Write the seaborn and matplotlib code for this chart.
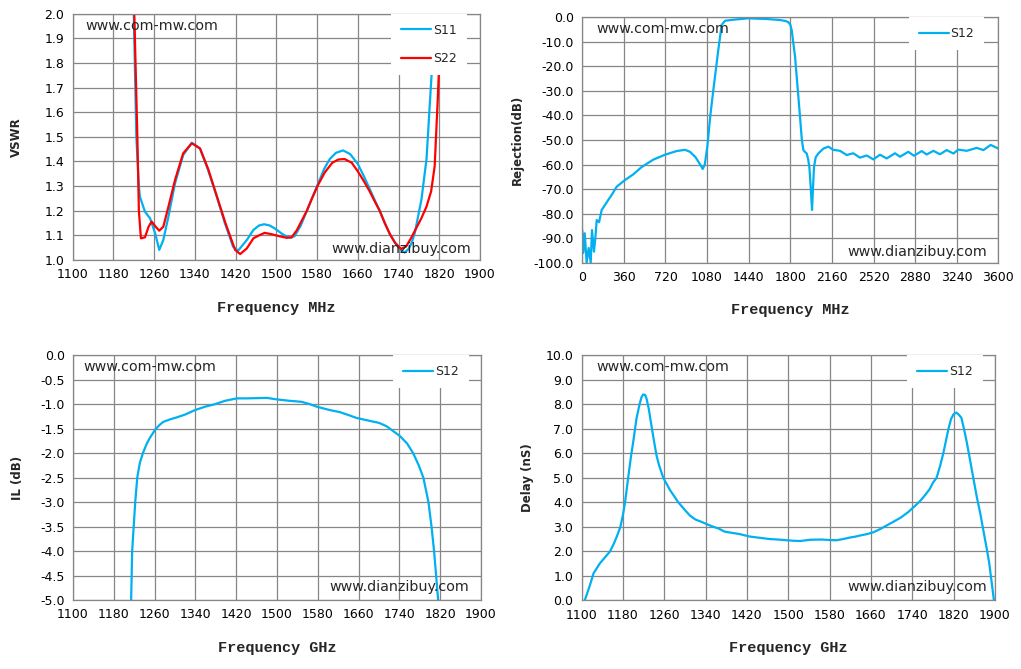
import matplotlib
matplotlib.use("Agg")
import matplotlib.pyplot as plt
import seaborn as sns
import pandas as pd
from matplotlib.ticker import FormatStrFormatter

# ---------------- data ----------------
vswr_freq_s11 = [1216, 1220, 1225, 1230, 1232, 1238, 1242, 1252, 1262, 1270, 1278, 1288, 1301, 1317, 1334,
                 1350, 1366, 1383, 1399, 1415, 1425, 1442, 1455, 1466, 1476, 1487, 1497, 1510, 1520, 1528,
                 1536, 1548, 1560, 1572, 1582, 1594, 1605, 1617, 1631, 1645, 1660, 1672, 1683, 1694, 1703,
                 1713, 1723, 1735, 1745, 1752, 1760, 1766, 1772, 1785, 1795, 1804, 1813, 1816]
vswr_s11 = [2.3, 2.0, 1.5, 1.3, 1.257, 1.22, 1.196, 1.169, 1.108, 1.041, 1.081, 1.176, 1.311, 1.426, 1.476,
            1.453, 1.365, 1.257, 1.149, 1.054, 1.038, 1.081, 1.122, 1.14, 1.145, 1.14, 1.128, 1.108, 1.095, 1.09,
            1.097, 1.14, 1.2, 1.26, 1.31, 1.37, 1.41, 1.435, 1.445, 1.43, 1.39, 1.34, 1.29, 1.24, 1.2,
            1.15, 1.105, 1.065, 1.04, 1.03, 1.045, 1.07, 1.11, 1.245, 1.41, 1.72, 2.0, 2.2]

vswr_freq_s22 = [1217, 1221, 1227, 1230, 1234, 1242, 1249, 1255, 1263, 1270, 1278, 1288, 1301, 1317, 1334,
                 1350, 1366, 1383, 1400, 1419, 1429, 1442, 1455, 1466, 1477, 1490, 1505, 1520, 1530, 1540,
                 1550, 1560, 1570, 1582, 1595, 1610, 1622, 1634, 1648, 1660, 1672, 1683, 1694, 1703, 1713,
                 1723, 1733, 1745, 1755, 1765, 1775, 1785, 1795, 1804, 1811, 1817, 1824, 1827]
vswr_s22 = [2.3, 2.0, 1.5, 1.2, 1.088, 1.092, 1.135, 1.156, 1.135, 1.119, 1.135, 1.216, 1.325, 1.433, 1.474,
            1.453, 1.37, 1.26, 1.15, 1.041, 1.024, 1.047, 1.088, 1.10, 1.11, 1.105, 1.097, 1.09, 1.092, 1.12,
            1.16, 1.2, 1.25, 1.305, 1.355, 1.395, 1.408, 1.41, 1.395, 1.36, 1.32, 1.28, 1.235, 1.2, 1.15,
            1.105, 1.07, 1.045, 1.055, 1.09, 1.13, 1.17, 1.217, 1.278, 1.38, 1.65, 2.0, 2.2]

rej_freq = [0, 9, 21, 38, 55, 73, 84, 101, 113, 125, 145, 168, 196, 225, 254, 298, 370, 441, 514, 614,
            715, 816, 889, 932, 980, 1020, 1042, 1060, 1082, 1108, 1134, 1177, 1206, 1235, 1300, 1437, 1600,
            1711, 1760, 1783, 1800, 1812, 1841, 1862, 1884, 1900, 1913, 1930, 1942, 1955, 1965, 1975, 1988,
            1996, 2005, 2020, 2042, 2086, 2129, 2172, 2230, 2288, 2345, 2403, 2461, 2518, 2576, 2634, 2706,
            2749, 2821, 2870, 2937, 2980, 3038, 3095, 3153, 3211, 3254, 3326, 3413, 3471, 3534, 3600]
rej_s12 = [-86.7, -96, -88, -100, -94, -100, -86.7, -95.5, -90, -82.6, -83.5, -78.5, -76.5, -74.4, -72.4,
           -69, -66.3, -64, -61, -58, -56, -54.5, -54, -54.8, -57, -60, -61.8, -60, -52.7, -40, -29.6, -13.3,
           -3.1, -1.4, -1.0, -0.4, -0.7, -1.1, -1.5, -2.0, -3.0, -5.2, -16, -28, -40.5, -50, -54.1, -55,
           -55.5, -58, -61, -68, -78.5, -70, -61, -57, -55.5, -53.5, -52.7, -54, -54.4, -56.1, -55.4, -57.2,
           -56.3, -57.9, -56, -57.5, -55.4, -56.8, -54.8, -56.4, -54.5, -55.9, -54.4, -55.8, -54.1, -55.5,
           -53.9, -54.4, -53.2, -54.1, -52, -53.5]

il_freq = [1213, 1214, 1216, 1219, 1222, 1226, 1231, 1237, 1244, 1250, 1261, 1270, 1277, 1290, 1303, 1320,
           1339, 1359, 1378, 1398, 1421, 1440, 1460, 1480, 1499, 1525, 1548, 1565, 1578, 1604, 1623, 1640,
           1656, 1682, 1700, 1715, 1741, 1755, 1767, 1778, 1787, 1797, 1803, 1808, 1812, 1816, 1818]
il_s12 = [-5.3, -5.0, -4.0, -3.5, -3.0, -2.5, -2.2, -2.0, -1.82, -1.7, -1.52, -1.42, -1.36, -1.31, -1.27,
          -1.21, -1.12, -1.05, -1.0, -0.93, -0.88, -0.88, -0.875, -0.87, -0.9, -0.93, -0.95, -1.0, -1.05,
          -1.12, -1.16, -1.22, -1.28, -1.34, -1.38, -1.45, -1.65, -1.8, -2.0, -2.25, -2.5, -3.0, -3.5, -4.0,
          -4.5, -5.0, -5.3]

delay_freq = [1106, 1115, 1123, 1135, 1145, 1155, 1162, 1168, 1175, 1180, 1184, 1190, 1195, 1200, 1206, 1212,
              1216, 1219, 1223, 1226, 1230, 1233, 1240, 1245, 1250, 1258, 1271, 1287, 1300, 1310, 1320, 1332,
              1343, 1355, 1366, 1377, 1392, 1406, 1426, 1445, 1464, 1480, 1497, 1510, 1523, 1542, 1565, 1580,
              1593, 1606, 1619, 1630, 1640, 1652, 1665, 1677, 1690, 1703, 1718, 1732, 1745, 1755, 1765, 1774,
              1780, 1787, 1794, 1800, 1805, 1810, 1815, 1820, 1825, 1829, 1835, 1840, 1845, 1852, 1858, 1865,
              1872, 1878, 1885, 1889, 1892, 1895, 1898]
delay_s12 = [0.0, 0.55, 1.1, 1.5, 1.75, 2.0, 2.3, 2.6, 3.0, 3.5, 4.0, 5.0, 5.8, 6.5, 7.4, 8.0, 8.3, 8.4, 8.38,
             8.2, 7.8, 7.4, 6.5, 5.9, 5.5, 5.0, 4.5, 4.0, 3.68, 3.45, 3.3, 3.2, 3.1, 3.0, 2.92, 2.8, 2.75, 2.7,
             2.6, 2.55, 2.5, 2.48, 2.45, 2.43, 2.42, 2.47, 2.48, 2.46, 2.45, 2.5, 2.56, 2.6, 2.65, 2.7, 2.78,
             2.9, 3.05, 3.2, 3.38, 3.6, 3.85, 4.05, 4.3, 4.55, 4.8, 5.0, 5.5, 6.0, 6.5, 7.0, 7.4, 7.6, 7.66,
             7.6, 7.45, 7.0, 6.5, 5.7, 5.0, 4.2, 3.5, 2.8, 2.0, 1.5, 1.0, 0.5, 0.0]

band_ticks = list(range(1100, 1901, 80))
rej_ticks = list(range(0, 3601, 360))

# ---------------- style ----------------
sns.set_style("white")
plt.rcParams['font.family'] = ['DejaVu Sans']
plt.rcParams['axes.unicode_minus'] = False

BLUE = "#00B0F0"
RED = "#FF0000"
GRID = "#868686"

fig = plt.figure(figsize=(10.21, 6.69), dpi=100)
ax_tl = fig.add_axes([0.0712, 0.6114, 0.3989, 0.3681])
ax_tr = fig.add_axes([0.5703, 0.6073, 0.4075, 0.3668])
ax_bl = fig.add_axes([0.0715, 0.1031, 0.3996, 0.3658])
ax_br = fig.add_axes([0.5697, 0.1027, 0.4048, 0.3662])

xlabel_font = dict(family="Liberation Mono", weight="bold", size=11)
ylabel_font = dict(family="DejaVu Sans", weight="bold", size=8.5)


def style(ax, xlim, xticks, ylim, yticks, xlabel, ylabel, legend_box, ylab_x):
    ax.set_xlim(*xlim)
    ax.set_ylim(*ylim)
    ax.set_xticks(xticks)
    ax.set_yticks(yticks)
    ax.yaxis.set_major_formatter(FormatStrFormatter('%.1f'))
    ax.grid(True, color=GRID, linewidth=0.9)
    ax.set_axisbelow(True)
    for sp in ax.spines.values():
        sp.set_visible(True)
        sp.set_color(GRID)
        sp.set_linewidth(0.9)
    ax.tick_params(axis='both', which='major', direction='out', length=4, width=0.9,
                   color=GRID, labelsize=9, labelcolor='black', pad=2)
    ax.set_xlabel(xlabel, fontdict=xlabel_font, labelpad=14)
    ax.set_ylabel(ylabel, fontdict=ylabel_font)
    ax.yaxis.set_label_coords(ylab_x, 0.5)
    leg = ax.legend(loc='upper right', bbox_to_anchor=legend_box, frameon=True, fancybox=False,
                    facecolor='white', edgecolor='none', framealpha=1, borderaxespad=0,
                    fontsize=9, handlelength=2.4, handletextpad=0.15, labelspacing=1.25,
                    borderpad=0.8)
    leg.set_zorder(6)


def marks(ax, left_xy, right_xy):
    ax.text(left_xy[0], left_xy[1], "www.com-mw.com", transform=ax.transAxes, fontsize=10.3,
            ha='left', va='center', zorder=7)
    ax.text(right_xy[0], right_xy[1], "www.dianzibuy.com", transform=ax.transAxes, fontsize=10.3,
            ha='right', va='center', zorder=7)


# --- top left: VSWR
df11 = pd.DataFrame({"f": vswr_freq_s11, "v": vswr_s11})
df22 = pd.DataFrame({"f": vswr_freq_s22, "v": vswr_s22})
sns.lineplot(data=df11, x="f", y="v", ax=ax_tl, color=BLUE, linewidth=1.6, label="S11", sort=False)
sns.lineplot(data=df22, x="f", y="v", ax=ax_tl, color=RED, linewidth=1.6, label="S22", sort=False)
style(ax_tl, (1100, 1900), band_ticks, (1.0, 2.0), [1.0 + 0.1 * i for i in range(11)],
      "Frequency MHz", "VSWR", (0.968, 1.0), -0.122)
marks(ax_tl, (0.03, 0.95), (0.978, 0.045))

# --- top right: rejection
dfr = pd.DataFrame({"f": rej_freq, "v": rej_s12})
sns.lineplot(data=dfr, x="f", y="v", ax=ax_tr, color=BLUE, linewidth=1.6, label="S12", sort=False)
style(ax_tr, (0, 3600), rej_ticks, (-100, 0), list(range(-100, 1, 10)),
      "Frequency MHz", "Rejection(dB)", (0.966, 1.0), -0.140)
marks(ax_tr, (0.035, 0.951), (0.974, 0.042))

# --- bottom left: IL
dfi = pd.DataFrame({"f": il_freq, "v": il_s12})
sns.lineplot(data=dfi, x="f", y="v", ax=ax_bl, color=BLUE, linewidth=1.6, label="S12", sort=False)
style(ax_bl, (1100, 1900), band_ticks, (-5.0, 0.0), [-5.0 + 0.5 * i for i in range(11)],
      "Frequency GHz", "IL (dB)", (0.97, 1.0), -0.121)
marks(ax_bl, (0.026, 0.953), (0.97, 0.052))

# --- bottom right: delay
dfd = pd.DataFrame({"f": delay_freq, "v": delay_s12})
sns.lineplot(data=dfd, x="f", y="v", ax=ax_br, color=BLUE, linewidth=1.6, label="S12", sort=False)
style(ax_br, (1100, 1900), band_ticks, (0.0, 10.0), [float(i) for i in range(11)],
      "Frequency GHz", "Delay (nS)", (0.97, 1.0), -0.115)
marks(ax_br, (0.036, 0.951), (0.98, 0.053))

fig.savefig("out.png", dpi=100)
